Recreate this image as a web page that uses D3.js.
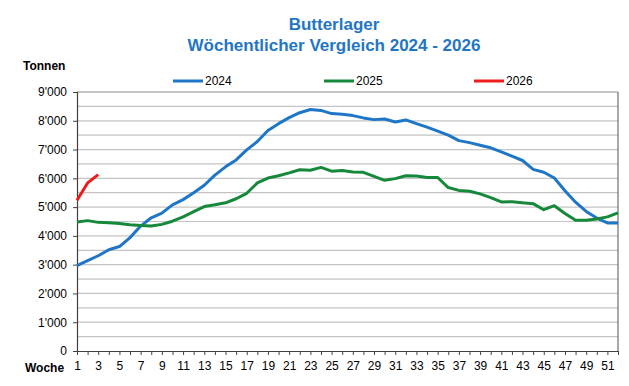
<!DOCTYPE html>
<html>
<head>
<meta charset="utf-8">
<script src="https://cdn.jsdelivr.net/npm/d3@7"></script>
<style>
  body { margin: 0; background: #fff; }
  svg { font-family: "Liberation Sans", Arial, sans-serif; }
</style>
</head>
<body>
<div id="chart"></div>
<script>
// weeks 1..52
const weeks = d3.range(1, 53);

const values2024 = [
  2970, 3140, 3310, 3520, 3630, 3940, 4340, 4630, 4790, 5080,
  5260, 5500, 5760, 6110, 6400, 6640, 6990, 7280, 7660, 7900,
  8110, 8280, 8390, 8360, 8250, 8230, 8180, 8100, 8040, 8060,
  7960, 8030, 7900, 7780, 7640, 7500, 7310, 7240, 7150, 7060,
  6920, 6770, 6620, 6310, 6210, 6010, 5570, 5170, 4850, 4620,
  4450, 4450
];

const values2025 = [
  4480, 4530, 4470, 4460, 4430, 4390, 4360, 4340, 4400, 4510,
  4660, 4840, 5020, 5080, 5150, 5290, 5480, 5840, 6010, 6090,
  6190, 6300, 6280, 6380, 6250, 6270, 6220, 6210, 6070, 5930,
  5990, 6090, 6080, 6030, 6030, 5680, 5580, 5550, 5460, 5330,
  5180, 5190, 5150, 5120, 4910, 5050, 4780, 4540, 4540, 4590,
  4660, 4800
];

const values2026 = [5240, 5840, 6130];

const seriesNames = ["2024", "2025", "2026"];
const seriesColors = ["#1f76c6", "#16883a", "#ee1c1c"];
const yTickLabels = ["0", "1'000", "2'000", "3'000", "4'000", "5'000", "6'000", "7'000", "8'000", "9'000"];

const width = 629, height = 386;
const margin = { top: 92, right: 11, bottom: 35, left: 77 };

const svg = d3.select("#chart").append("svg")
  .attr("width", width)
  .attr("height", height);

const innerW = width - margin.left - margin.right;
const innerH = height - margin.top - margin.bottom;

const x = d3.scaleLinear().domain([1, 52]).range([margin.left, margin.left + innerW]);
const y = d3.scaleLinear().domain([0, 9000]).range([margin.top + innerH, margin.top]);

// title
const titleColor = "#1f76c6";
svg.append("text")
  .attr("x", 334).attr("y", 30)
  .attr("text-anchor", "middle")
  .style("font-size", "17px").style("font-weight", "bold")
  .style("fill", titleColor)
  .text("Butterlager");
svg.append("text")
  .attr("x", 334).attr("y", 51)
  .attr("text-anchor", "middle")
  .style("font-size", "17px").style("font-weight", "bold")
  .style("fill", titleColor)
  .text("Wöchentlicher Vergleich 2024 - 2026");

svg.append("text")
  .attr("x", 23).attr("y", 70)
  .style("font-size", "12px").style("font-weight", "bold")
  .text("Tonnen");

// gridlines every 500
const grid = svg.append("g").classed("grid", true);
grid.selectAll("line")
  .data(d3.range(500, 9001, 500))
  .enter().append("line")
  .attr("x1", margin.left).attr("x2", margin.left + innerW)
  .attr("y1", d => y(d)).attr("y2", d => y(d))
  .attr("stroke", d => d === 9000 ? "#8c8c8c" : "#c4c4c4")
  .attr("stroke-width", 1.2);

// right border
svg.append("line")
  .attr("x1", margin.left + innerW).attr("x2", margin.left + innerW)
  .attr("y1", y(9000)).attr("y2", y(0))
  .attr("stroke", "#707070").attr("stroke-width", 1.2);

// y axis
const yAxis = svg.append("g")
  .attr("transform", `translate(${margin.left},0)`)
  .call(d3.axisLeft(y).tickValues(d3.range(0, 9001, 1000))
    .tickFormat((d, i) => yTickLabels[i]).tickSize(4).tickPadding(6));
yAxis.select(".domain").attr("stroke", "#404040").attr("stroke-width", 1.2);
yAxis.selectAll(".tick line").attr("stroke", "#404040");
yAxis.selectAll("text")
  .style("font-size", "12px")
  .style("font-family", "'Liberation Sans', Arial, sans-serif")
  .attr("fill", "#000");

// x axis
const xAxis = svg.append("g")
  .attr("transform", `translate(0,${y(0)})`)
  .call(d3.axisBottom(x).tickValues(weeks)
    .tickFormat(d => d % 2 === 1 ? d : "").tickSize(4).tickSizeOuter(0).tickPadding(6));
xAxis.select(".domain").attr("stroke", "#404040").attr("stroke-width", 1.2);
xAxis.selectAll(".tick line").attr("stroke", "#404040");
xAxis.selectAll("text")
  .style("font-size", "12px")
  .style("font-family", "'Liberation Sans', Arial, sans-serif")
  .attr("fill", "#000");

svg.append("text")
  .attr("x", 25).attr("y", y(0) + 21)
  .style("font-size", "12px").style("font-weight", "bold")
  .text("Woche");

// lines
const line = d3.line()
  .x((d, i) => x(weeks[i]))
  .y(d => y(d));

[values2024, values2025, values2026].forEach((vals, i) => {
  svg.append("path")
    .datum(vals)
    .attr("fill", "none")
    .attr("stroke", seriesColors[i])
    .attr("stroke-width", 3)
    .attr("stroke-linejoin", "round")
    .attr("d", line);
});

// legend, centred over the plot area
const legendX = [173, 324, 474];
const legend = svg.append("g").classed("legend", true);
seriesNames.forEach((name, i) => {
  legend.append("line")
    .attr("x1", legendX[i]).attr("x2", legendX[i] + 30)
    .attr("y1", 81).attr("y2", 81)
    .attr("stroke", seriesColors[i]).attr("stroke-width", 3);
  legend.append("text")
    .attr("x", legendX[i] + 32).attr("y", 85)
    .style("font-size", "12px")
    .style("font-family", "'Liberation Sans Narrow', 'Arial Narrow', sans-serif")
    .text(name);
});
</script>
</body>
</html>
